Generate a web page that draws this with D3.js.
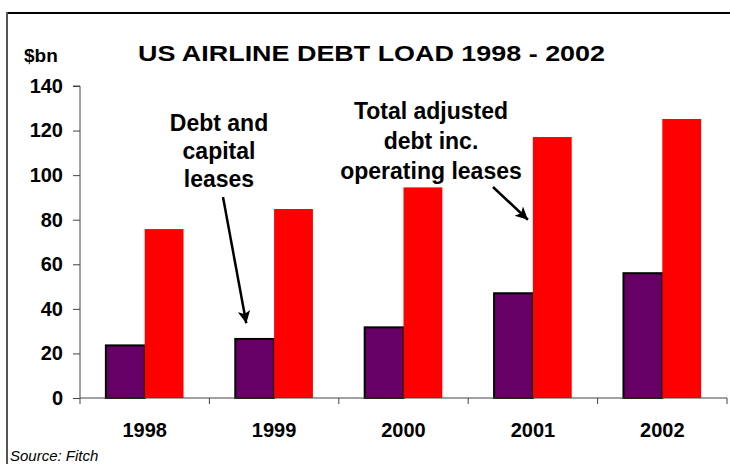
<!DOCTYPE html>
<html>
<head>
<meta charset="utf-8">
<script src="https://cdn.jsdelivr.net/npm/d3@7"></script>
<style>
  body { margin: 0; background: #fff; }
  svg text { font-family: Arial, "Liberation Sans", sans-serif; fill: #000; }
</style>
</head>
<body>
<svg id="chart"></svg>
<script>
// values ($bn)
const years = ['1998', '1999', '2000', '2001', '2002'];
const debtCapital = [23.6, 26.5, 31.7, 47.0, 56.0];
const totalAdjusted = [75.8, 84.8, 94.5, 117.1, 125.2];
const yTicks = [0, 20, 40, 60, 80, 100, 120, 140];

const width = 730, height = 464;
const margin = { top: 86, right: 3, bottom: 66, left: 80 };

const svg = d3.select('#chart')
    .attr('width', width)
    .attr('height', height);

// outer frame (top and left edges visible)
svg.append('line')
    .attr('x1', 6).attr('x2', width).attr('y1', 13).attr('y2', 13)
    .attr('stroke', '#000').attr('stroke-width', 2);
svg.append('line')
    .attr('x1', 7).attr('x2', 7).attr('y1', 12).attr('y2', height)
    .attr('stroke', '#555').attr('stroke-width', 2);

const x = d3.scaleBand()
    .domain(years)
    .range([margin.left, width - margin.right])
    .paddingInner(0.4)
    .paddingOuter(0.2);

const x1 = d3.scaleBand()
    .domain(['debt', 'total'])
    .range([0, x.bandwidth()]);

const y = d3.scaleLinear()
    .domain([0, 140])
    .range([height - margin.bottom, margin.top]);

// bars
const groups = svg.append('g')
  .selectAll('g')
  .data(years)
  .join('g')
    .attr('transform', d => `translate(${x(d)},0)`);

groups.append('rect')
    .attr('x', x1('debt'))
    .attr('y', (d, i) => y(debtCapital[i]))
    .attr('width', x1.bandwidth())
    .attr('height', (d, i) => y(0) - y(debtCapital[i]))
    .attr('fill', '#660066')
    .attr('stroke', '#000')
    .attr('stroke-width', 2);

groups.append('rect')
    .attr('x', x1('total'))
    .attr('y', (d, i) => y(totalAdjusted[i]))
    .attr('width', x1.bandwidth())
    .attr('height', (d, i) => y(0) - y(totalAdjusted[i]))
    .attr('fill', '#ff0000');

// y axis
const yAxis = d3.axisLeft(y)
    .tickValues(yTicks)
    .tickSize(7)
    .tickPadding(10);

svg.append('g')
    .attr('transform', `translate(${margin.left},0)`)
    .call(yAxis)
    .call(g => g.select('.domain').attr('stroke', '#444').attr('d', `M-7,${y(140)}H0V${y(0)}`))
    .call(g => g.selectAll('.tick line').attr('stroke', '#444'))
    .call(g => g.selectAll('.tick text')
        .attr('x', -17)
        .attr('font-size', 20)
        .style('font-size', '20px')
        .style('font-weight', 'bold'));

// x axis: ticks sit between categories like the original
const step = x.step();
const bounds = d3.range(years.length + 1).map(i => margin.left + i * step);

const xAxisG = svg.append('g');
xAxisG.append('line')
    .attr('x1', margin.left).attr('x2', width - margin.right)
    .attr('y1', y(0)).attr('y2', y(0))
    .attr('stroke', '#444');
xAxisG.selectAll('.xtick')
  .data(bounds)
  .join('line')
    .attr('class', 'xtick')
    .attr('x1', d => d).attr('x2', d => d)
    .attr('y1', y(0)).attr('y2', y(0) + 6)
    .attr('stroke', '#444');
xAxisG.selectAll('.xlabel')
  .data(years)
  .join('text')
    .attr('class', 'xlabel')
    .attr('x', d => x(d) + x.bandwidth() / 2)
    .attr('y', y(0) + 39)
    .attr('text-anchor', 'middle')
    .style('font-size', '20px')
    .style('font-weight', 'bold')
    .text(d => d);

// titles
svg.append('text')
    .attr('x', 138)
    .attr('y', 61)
    .attr('textLength', 467)
    .attr('lengthAdjust', 'spacingAndGlyphs')
    .style('font-size', '22px')
    .style('font-weight', 'bold')
    .text('US AIRLINE DEBT LOAD 1998 - 2002');

svg.append('text')
    .attr('x', 24)
    .attr('y', 62)
    .style('font-size', '19px')
    .style('font-weight', 'bold')
    .text('$bn');

svg.append('text')
    .attr('x', 10)
    .attr('y', 461)
    .style('font-size', '15px')
    .style('font-style', 'italic')
    .text('Source: Fitch');

// annotations with arrows pointing at bars
const notes = [
  { lines: ['Debt and', 'capital', 'leases'], cx: 219, y0: 131, dy: 28,
    from: [223, 197], year: '1999', series: 'debt', dx: 11, value: 33.5 },
  { lines: ['Total adjusted', 'debt inc.', 'operating leases'], cx: 431, y0: 119, dy: 30,
    from: [493, 187], year: '2001', series: 'total', dx: -5, value: 80 }
];

svg.append('defs').append('marker')
    .attr('id', 'arrow')
    .attr('viewBox', '0 0 10 10')
    .attr('refX', 10).attr('refY', 5)
    .attr('markerWidth', 9).attr('markerHeight', 5)
    .attr('markerUnits', 'strokeWidth')
    .attr('orient', 'auto')
  .append('path')
    .attr('d', 'M0,0L10,5L0,10L2.5,5Z')
    .attr('fill', '#000');

notes.forEach(n => {
  n.lines.forEach((t, i) => {
    svg.append('text')
        .attr('x', n.cx)
        .attr('y', n.y0 + i * n.dy)
        .attr('text-anchor', 'middle')
        .style('font-size', '23px')
        .style('font-weight', 'bold')
        .text(t);
  });
  const tx = x(n.year) + x1(n.series) + n.dx;
  const ty = y(n.value);
  svg.append('line')
      .attr('x1', n.from[0]).attr('y1', n.from[1])
      .attr('x2', tx).attr('y2', ty)
      .attr('stroke', '#000')
      .attr('stroke-width', 2.5)
      .attr('marker-end', 'url(#arrow)');
});
</script>
</body>
</html>
